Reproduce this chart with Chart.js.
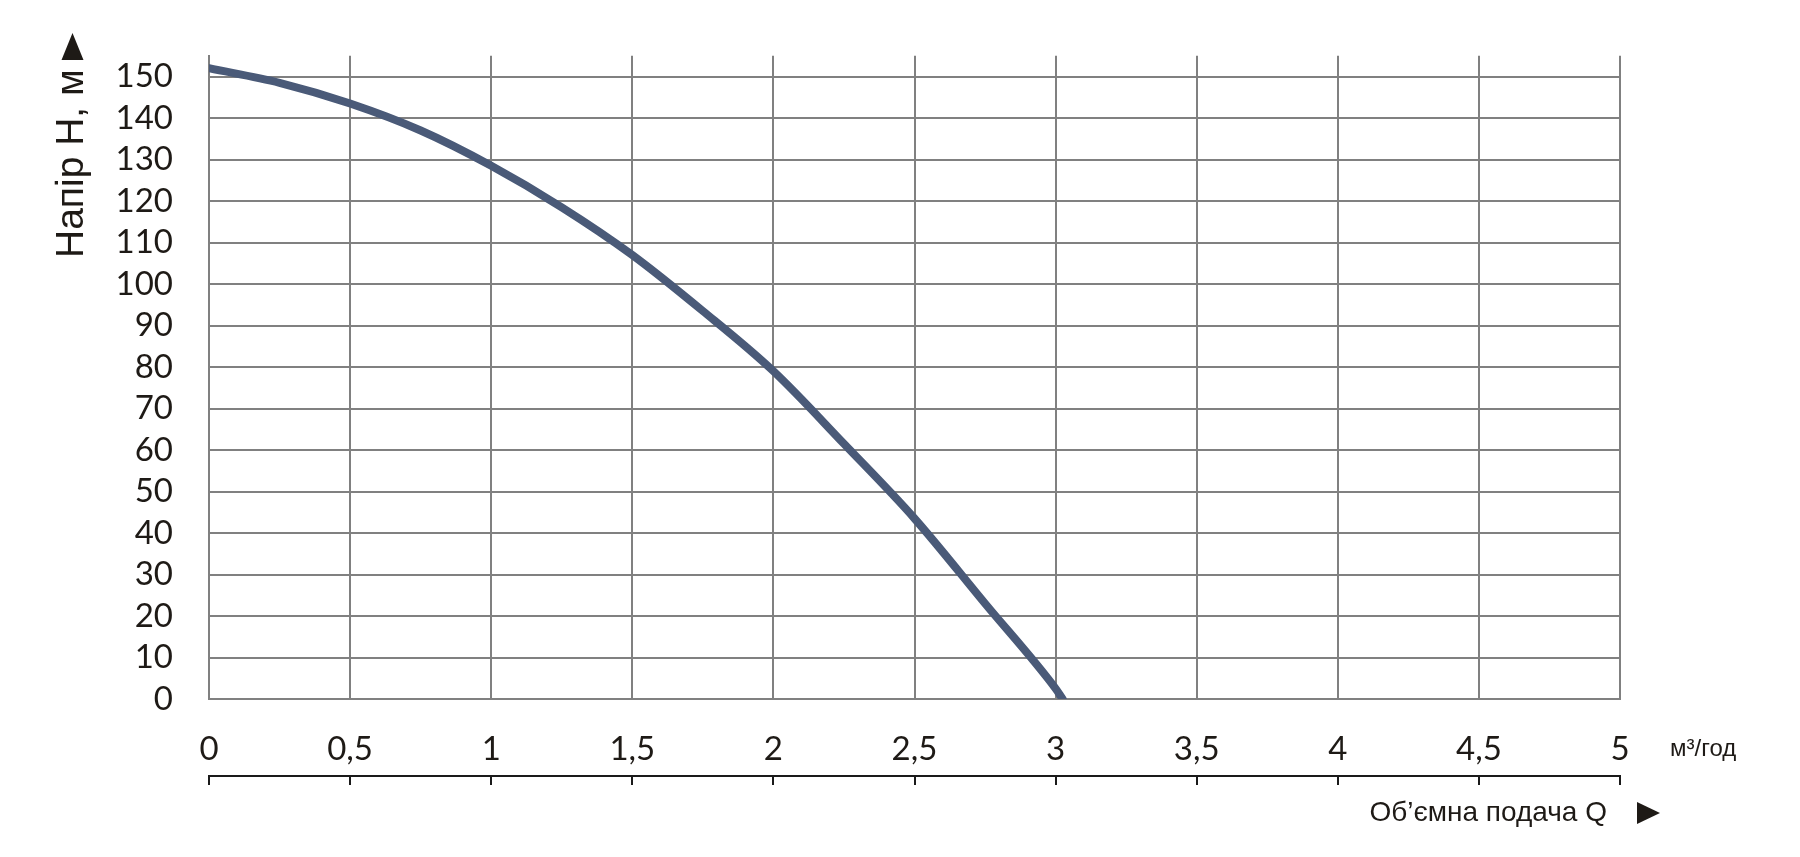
<!DOCTYPE html>
<html>
<head>
<meta charset="utf-8">
<script src="https://cdn.jsdelivr.net/npm/chart.js@4"></script>
<style>
  html, body { margin: 0; padding: 0; background: #ffffff; }
  #wrap { width: 1800px; height: 857px; position: relative; }
</style>
</head>
<body>
<div id="wrap"><canvas id="c"></canvas></div>
<script>
// Flow Q (m3/h) and head H (m)
const flowQ = [0, 0.25, 0.5, 0.75, 1.0, 1.25, 1.5, 1.75, 2.0, 2.25, 2.5, 2.75, 3.0, 3.025];
const headH = [152, 148.5, 143.5, 137, 128.5, 118.5, 107, 93.5, 79, 61.5, 43.5, 23, 2.5, 0];

const xMin = 0, xMax = 5, xStep = 0.5;
const yMin = 0, yMax = 155, yStep = 10;

const yTitle = 'Напір Н, м';
const xTitle = 'Об’ємна подача Q';
const xUnit = 'м³/год';

const points = flowQ.map((q, i) => ({ x: q, y: headH[i] }));

const GRID = '#808080';
const TEXT = '#1e1a16';

const labelsPlugin = {
  id: 'extraLabels',
  afterDraw(chart) {
    const ctx = chart.ctx;
    const xs = chart.scales.x;
    ctx.save();
    ctx.fillStyle = TEXT;
    // Y title (rotated)
    ctx.save();
    ctx.translate(83, 258);
    ctx.rotate(-Math.PI / 2);
    ctx.font = '39px "Liberation Sans", Arial, sans-serif';
    ctx.textAlign = 'left';
    ctx.textBaseline = 'alphabetic';
    ctx.fillText(yTitle, 0, 0);
    ctx.restore();
    // up arrow
    ctx.beginPath();
    ctx.moveTo(72.5, 33);
    ctx.lineTo(61.5, 60);
    ctx.lineTo(83.5, 60);
    ctx.closePath();
    ctx.fill();
    // unit label next to last tick
    const x5 = xs.getPixelForValue(xMax);
    ctx.font = '24px "Liberation Sans", Arial, sans-serif';
    ctx.textAlign = 'left';
    ctx.textBaseline = 'middle';
    ctx.fillText(xUnit, x5 + 50, 749);
    // X title
    ctx.font = '28px "Liberation Sans", Arial, sans-serif';
    ctx.textAlign = 'right';
    ctx.textBaseline = 'middle';
    ctx.fillText(xTitle, x5 - 13, 813);
    // right arrow
    ctx.beginPath();
    ctx.moveTo(x5 + 17, 802);
    ctx.lineTo(x5 + 17, 824);
    ctx.lineTo(x5 + 40, 813);
    ctx.closePath();
    ctx.fill();
    ctx.restore();
  }
};

new Chart(document.getElementById('c'), {
  type: 'line',
  data: {
    datasets: [{
      data: points,
      borderColor: '#4a5a78',
      borderWidth: 8,
      pointRadius: 0,
      fill: false,
      cubicInterpolationMode: 'monotone',
      borderCapStyle: 'round'
    }]
  },
  options: {
    responsive: true,
    maintainAspectRatio: false,
    devicePixelRatio: 1,
    animation: false,
    layout: { padding: { top: 51, right: 180, bottom: 72, left: 0 } },
    plugins: { legend: { display: false }, tooltip: { enabled: false } },
    scales: {
      x: {
        type: 'linear',
        position: 'bottom',
        min: xMin, max: xMax,
        grid: { color: GRID, lineWidth: 2, drawTicks: false },
        border: { color: GRID, width: 2 },
        ticks: {
          stepSize: xStep,
          padding: 31,
          color: TEXT,
          font: { family: 'Lato', size: 33 },
          maxRotation: 0,
          autoSkip: false,
          callback: (v) => String(v).replace('.', ',')
        },
        afterFit: (s) => { s.height = 77; }
      },
      x2: {
        type: 'linear',
        position: 'bottom',
        min: xMin, max: xMax,
        weight: 1,
        grid: { drawOnChartArea: false, drawTicks: true, tickLength: 9, color: '#1a1a1a', lineWidth: 2 },
        border: { color: '#1a1a1a', width: 2 },
        ticks: { stepSize: xStep, display: false },
        afterFit: (s) => { s.height = 9; }
      },
      y: {
        type: 'linear',
        min: yMin, max: yMax,
        grid: { color: GRID, lineWidth: 2, drawTicks: false },
        border: { color: GRID, width: 2 },
        ticks: {
          stepSize: yStep,
          includeBounds: false,
          padding: 36,
          color: TEXT,
          font: { family: 'Lato', size: 33 }
        },
        afterFit: (s) => { s.width = 209; }
      }
    }
  },
  plugins: [labelsPlugin]
});
</script>
</body>
</html>
